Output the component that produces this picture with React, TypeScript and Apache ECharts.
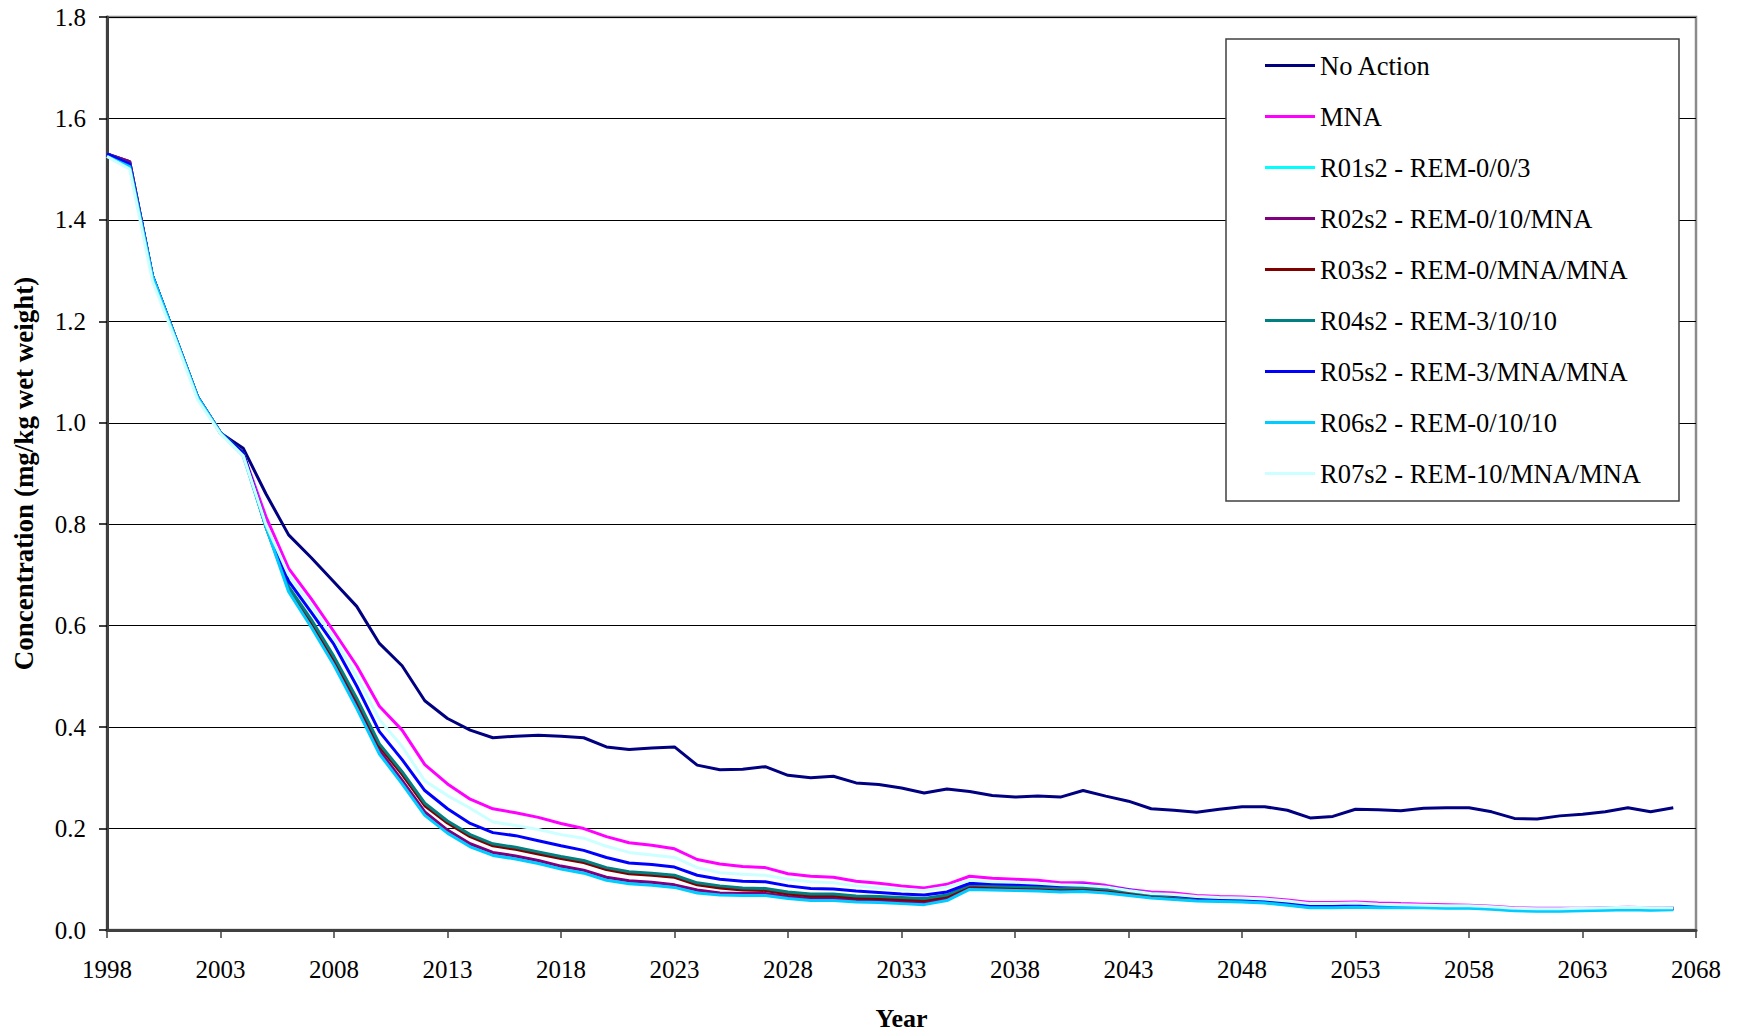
import React, { useEffect, useRef } from "react";
import * as echarts from "echarts";

const FIRST_YEAR = 1998;
const LAST_YEAR = 2068;
const years: string[] = [];
for (let y = FIRST_YEAR; y <= LAST_YEAR; y++) years.push(String(y));

const yTicks = [0, 0.2, 0.4, 0.6, 0.8, 1.0, 1.2, 1.4, 1.6, 1.8];

const seriesNames = [
  "No Action",
  "MNA",
  "R01s2 - REM-0/0/3",
  "R02s2 - REM-0/10/MNA",
  "R03s2 - REM-0/MNA/MNA",
  "R04s2 - REM-3/10/10",
  "R05s2 - REM-3/MNA/MNA",
  "R06s2 - REM-0/10/10",
  "R07s2 - REM-10/MNA/MNA",
];
const seriesColors = [
  "#000080",
  "#FF00FF",
  "#00FFFF",
  "#800080",
  "#800000",
  "#008080",
  "#0000FF",
  "#00CCFF",
  "#CCFFFF",
];

// values for 1998..2067
const noAction = [
  1.53, 1.515, 1.29, 1.17, 1.05, 0.98, 0.95, 0.86, 0.779, 0.734,
  0.686, 0.638, 0.565, 0.521, 0.452, 0.417, 0.394, 0.379, 0.382, 0.384,
  0.382, 0.379, 0.361, 0.356, 0.359, 0.361, 0.325, 0.316, 0.317, 0.322,
  0.305, 0.3, 0.303, 0.29, 0.287, 0.28, 0.27, 0.278, 0.273, 0.265,
  0.262, 0.264, 0.262, 0.275, 0.264, 0.254, 0.239, 0.236, 0.232, 0.238,
  0.243, 0.243, 0.236, 0.221, 0.224, 0.238, 0.237, 0.235, 0.24, 0.241,
  0.241, 0.233, 0.22, 0.219, 0.225, 0.228, 0.233, 0.241, 0.233, 0.241,
];
const mna = [
  1.53, 1.51, 1.29, 1.17, 1.05, 0.98, 0.94, 0.815, 0.713, 0.653,
  0.588, 0.521, 0.441, 0.394, 0.326, 0.288, 0.258, 0.239, 0.231, 0.222,
  0.21, 0.2, 0.184, 0.172, 0.167, 0.16, 0.139, 0.13, 0.125, 0.123,
  0.111, 0.106, 0.104, 0.096, 0.092, 0.087, 0.083, 0.09, 0.106, 0.102,
  0.1, 0.098, 0.093, 0.093, 0.088, 0.08, 0.075, 0.073, 0.068, 0.066,
  0.065, 0.063, 0.059, 0.054, 0.054, 0.055, 0.053, 0.052, 0.051, 0.05,
  0.049, 0.047, 0.044, 0.043, 0.043, 0.043, 0.044, 0.045, 0.044, 0.044,
];
const r01 = [
  1.53, 1.51, 1.29, 1.17, 1.05, 0.98, 0.94, 0.8, 0.67, 0.6,
  0.525, 0.44, 0.35, 0.291, 0.229, 0.194, 0.167, 0.15, 0.143, 0.134,
  0.123, 0.115, 0.101, 0.094, 0.091, 0.087, 0.076, 0.071, 0.07, 0.07,
  0.064, 0.06, 0.06, 0.057, 0.056, 0.054, 0.052, 0.06, 0.082, 0.081,
  0.08, 0.079, 0.077, 0.078, 0.075, 0.07, 0.065, 0.062, 0.058, 0.057,
  0.056, 0.054, 0.05, 0.045, 0.045, 0.046, 0.045, 0.045, 0.045, 0.044,
  0.044, 0.042, 0.039, 0.038, 0.038, 0.039, 0.04, 0.041, 0.04, 0.041,
];
const r02 = [
  1.53, 1.515, 1.29, 1.17, 1.05, 0.98, 0.94, 0.8, 0.673, 0.604,
  0.529, 0.444, 0.354, 0.295, 0.233, 0.197, 0.17, 0.153, 0.146, 0.137,
  0.126, 0.118, 0.104, 0.097, 0.094, 0.089, 0.079, 0.073, 0.072, 0.072,
  0.066, 0.062, 0.062, 0.059, 0.058, 0.056, 0.054, 0.062, 0.083, 0.082,
  0.081, 0.08, 0.078, 0.079, 0.076, 0.071, 0.066, 0.063, 0.059, 0.058,
  0.057, 0.055, 0.051, 0.046, 0.046, 0.047, 0.046, 0.046, 0.046, 0.045,
  0.045, 0.043, 0.04, 0.039, 0.039, 0.04, 0.041, 0.042, 0.041, 0.042,
];
const r03 = [
  1.53, 1.51, 1.29, 1.17, 1.05, 0.98, 0.94, 0.795, 0.673, 0.607,
  0.534, 0.452, 0.362, 0.307, 0.245, 0.211, 0.184, 0.166, 0.159, 0.15,
  0.141, 0.133, 0.119, 0.111, 0.108, 0.104, 0.089, 0.083, 0.079, 0.078,
  0.071, 0.067, 0.067, 0.063, 0.062, 0.06, 0.058, 0.066, 0.087, 0.085,
  0.084, 0.083, 0.081, 0.082, 0.079, 0.074, 0.068, 0.065, 0.061, 0.059,
  0.058, 0.056, 0.052, 0.047, 0.047, 0.048, 0.047, 0.047, 0.046, 0.045,
  0.045, 0.043, 0.04, 0.039, 0.039, 0.04, 0.041, 0.042, 0.041, 0.042,
];
const r04 = [
  1.53, 1.51, 1.29, 1.17, 1.05, 0.98, 0.94, 0.795, 0.677, 0.612,
  0.539, 0.457, 0.367, 0.312, 0.25, 0.215, 0.188, 0.17, 0.163, 0.154,
  0.145, 0.137, 0.123, 0.115, 0.112, 0.108, 0.093, 0.087, 0.083, 0.082,
  0.075, 0.071, 0.071, 0.067, 0.066, 0.064, 0.062, 0.069, 0.089, 0.087,
  0.086, 0.085, 0.083, 0.084, 0.081, 0.076, 0.07, 0.067, 0.063, 0.061,
  0.06, 0.058, 0.054, 0.048, 0.048, 0.049, 0.048, 0.048, 0.047, 0.046,
  0.046, 0.044, 0.041, 0.04, 0.04, 0.041, 0.042, 0.043, 0.042, 0.043,
];
const r05 = [
  1.53, 1.51, 1.29, 1.17, 1.05, 0.98, 0.94, 0.8, 0.688, 0.626,
  0.563, 0.481, 0.391, 0.336, 0.275, 0.239, 0.21, 0.192, 0.186, 0.176,
  0.166, 0.157, 0.143, 0.132, 0.129, 0.124, 0.108, 0.1, 0.096, 0.095,
  0.087, 0.082, 0.081, 0.077, 0.074, 0.071, 0.069, 0.075, 0.092, 0.091,
  0.09, 0.089, 0.087, 0.089, 0.085, 0.079, 0.072, 0.069, 0.064, 0.062,
  0.061, 0.059, 0.055, 0.049, 0.049, 0.05, 0.049, 0.049, 0.048, 0.047,
  0.047, 0.045, 0.042, 0.041, 0.041, 0.042, 0.043, 0.043, 0.042, 0.043,
];
const r06 = [
  1.525, 1.505, 1.29, 1.17, 1.05, 0.98, 0.935, 0.795, 0.667, 0.597,
  0.522, 0.437, 0.347, 0.288, 0.226, 0.191, 0.164, 0.147, 0.14, 0.131,
  0.12, 0.112, 0.098, 0.091, 0.088, 0.084, 0.073, 0.069, 0.068, 0.068,
  0.062, 0.058, 0.058, 0.055, 0.054, 0.052, 0.05, 0.058, 0.08, 0.079,
  0.078, 0.077, 0.075, 0.076, 0.073, 0.068, 0.063, 0.06, 0.057, 0.056,
  0.055, 0.053, 0.049, 0.044, 0.044, 0.045, 0.044, 0.044, 0.044, 0.043,
  0.043, 0.041, 0.038, 0.037, 0.037, 0.038, 0.039, 0.04, 0.039, 0.04,
];
const r07 = [
  1.525, 1.5, 1.28, 1.165, 1.045, 0.978, 0.935, 0.8, 0.7, 0.64,
  0.575, 0.5, 0.415, 0.362, 0.294, 0.265, 0.24, 0.213, 0.206, 0.198,
  0.188, 0.181, 0.165, 0.153, 0.148, 0.143, 0.123, 0.113, 0.11, 0.108,
  0.1, 0.095, 0.093, 0.087, 0.083, 0.08, 0.078, 0.085, 0.098, 0.095,
  0.094, 0.092, 0.089, 0.088, 0.085, 0.078, 0.072, 0.07, 0.066, 0.064,
  0.063, 0.061, 0.057, 0.052, 0.052, 0.053, 0.051, 0.05, 0.049, 0.048,
  0.048, 0.046, 0.043, 0.042, 0.042, 0.043, 0.044, 0.045, 0.044, 0.044,
];

const seriesValues = [noAction, mna, r01, r02, r03, r04, r05, r06, r07];

const FONT = "'Times New Roman', 'Liberation Serif', serif";

export default function App() {
  const ref = useRef<HTMLDivElement>(null);
  useEffect(() => {
    document.body.style.margin = "0";
    const chart = echarts.init(ref.current!, null, { renderer: "svg" });
    chart.setOption({
      animation: false,
      backgroundColor: "#ffffff",
      textStyle: { fontFamily: FONT },
      grid: {
        left: 107,
        right: 42,
        top: 17,
        bottom: 104,
        show: true,
        borderColor: "#8c8c8c",
        borderWidth: 2.5,
        backgroundColor: "transparent",
      },
      xAxis: {
        type: "category",
        data: years,
        boundaryGap: false,
        name: "Year",
        nameLocation: "middle",
        nameGap: 75,
        nameTextStyle: { fontFamily: FONT, fontSize: 26, fontWeight: "bold", color: "#000" },
        axisLine: { show: true, lineStyle: { color: "#404040", width: 3 } },
        axisTick: { show: true, interval: 4, length: 8, lineStyle: { color: "#404040", width: 1.5 } },
        axisLabel: { interval: 4, margin: 27, fontFamily: FONT, fontSize: 25, color: "#000" },
        splitLine: { show: false },
      },
      yAxis: {
        type: "value",
        min: yTicks[0],
        max: yTicks[yTicks.length - 1],
        interval: 0.2,
        name: "Concentration (mg/kg wet weight)",
        nameLocation: "middle",
        nameRotate: 90,
        nameGap: 70,
        nameTextStyle: { fontFamily: FONT, fontSize: 27, fontWeight: "bold", color: "#000" },
        axisLine: { show: true, lineStyle: { color: "#404040", width: 3 } },
        axisTick: { show: true, length: 8, lineStyle: { color: "#000", width: 1.5 } },
        axisLabel: {
          margin: 21,
          fontFamily: FONT,
          fontSize: 25,
          color: "#000",
          formatter: (v: number) => v.toFixed(1),
        },
        splitLine: { show: true, lineStyle: { color: "#000", width: 1.2 } },
      },
      legend: {
        show: true,
        z: 20,
        zlevel: 0,
        orient: "vertical",
        left: 1265,
        top: 52,
        padding: 0,
        itemGap: 24,
        itemWidth: 50,
        itemHeight: 3,
        icon: "rect",
        textStyle: { fontFamily: FONT, fontSize: 26.5, color: "#000", padding: [0, 0, 0, 0] },
        data: seriesNames,
      },
      graphic: [
        {
          type: "rect",
          z: 10,
          zlevel: 0,
          shape: { x: 1226, y: 39, width: 453, height: 462 },
          style: { fill: "#fff", stroke: "#404040", lineWidth: 1.5 },
        },
      ],
      series: seriesNames.map((name, i) => ({
        name,
        type: "line",
        data: seriesValues[i],
        symbol: "none",
        color: seriesColors[i],
        itemStyle: { color: seriesColors[i] },
        lineStyle: { color: seriesColors[i], width: 3 },
        z: 2 + i * 0.01,
      })),
    });
    return () => chart.dispose();
  }, []);
  return <div ref={ref} style={{ width: 1738, height: 1036, background: "#fff" }} />;
}
